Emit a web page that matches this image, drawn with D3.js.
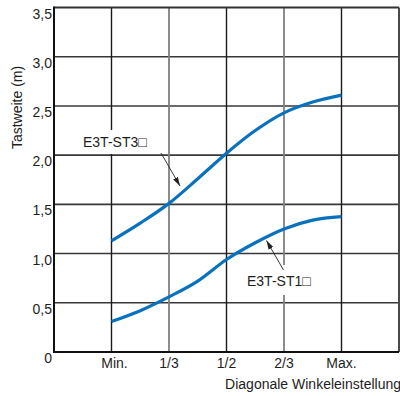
<!DOCTYPE html>
<html><head><meta charset="utf-8">
<script src="https://cdn.jsdelivr.net/npm/d3@7"></script>
<style>body{margin:0;background:#fff}svg{display:block}text{font-family:"Liberation Sans",Arial,sans-serif;fill:#1e1e1e}</style>
</head><body><svg id="c" width="400" height="396"></svg>
<script>
const categories = ["Min.", "1/3", "1/2", "2/3", "Max."];
const categoryPos = [1, 2, 3, 4, 5];
const yTickValues = [0, 0.5, 1.0, 1.5, 2.0, 2.5, 3.0, 3.5];
const yTickLabels = ["0", "0,5", "1,0", "1,5", "2,0", "2,5", "3,0", "3,5"];
const xPoints = [1, 1.5, 2, 2.5, 3, 3.5, 4, 4.5, 5];
const st3 = [1.13, 1.31, 1.51, 1.76, 2.02, 2.25, 2.43, 2.54, 2.61];
const st1 = [0.31, 0.42, 0.56, 0.72, 0.94, 1.11, 1.25, 1.34, 1.375];
const seriesNames = ["E3T-ST3\u25A1", "E3T-ST1\u25A1"];
const xTitle = "Diagonale Winkeleinstellung";
const yTitle = "Tastweite (m)";

const svg = d3.select("#c");
const x = d3.scaleLinear().domain([0, 6]).range([54, 399]);
const y = d3.scaleLinear().domain([0, 3.5]).range([352, 7.5]);

// horizontal grid
svg.append("g").selectAll("line").data(yTickValues.filter(v => v > 0 && v < 3.5)).join("line")
  .attr("x1", x(0)).attr("x2", x(6)).attr("y1", d => y(d)).attr("y2", d => y(d))
  .attr("stroke", "#383838").attr("stroke-width", 1.6);
// vertical grid
svg.append("g").selectAll("line").data(categoryPos).join("line")
  .attr("x1", d => x(d)).attr("x2", d => x(d)).attr("y1", y(0)).attr("y2", y(3.5))
  .attr("stroke", (d, i) => (i === 1 || i === 3) ? "#808080" : "#1a1a1a")
  .attr("stroke-width", (d, i) => (i === 1 || i === 3) ? 1.8 : 1.4);
// frame top and right
svg.append("line").attr("x1", x(0)).attr("x2", x(6)).attr("y1", y(3.5)).attr("y2", y(3.5)).attr("stroke", "#333").attr("stroke-width", 2);
svg.append("line").attr("x1", x(6)).attr("x2", x(6)).attr("y1", y(3.5)).attr("y2", y(0)).attr("stroke", "#4a4a4a").attr("stroke-width", 2);
// axes
svg.append("line").attr("x1", x(0)).attr("x2", x(0)).attr("y1", y(3.5) - 1).attr("y2", y(0)).attr("stroke", "#111").attr("stroke-width", 2);
svg.append("line").attr("x1", x(0) - 1).attr("x2", x(6)).attr("y1", y(0)).attr("y2", y(0)).attr("stroke", "#111").attr("stroke-width", 2);

// label backgrounds
svg.append("rect").attr("x", 78).attr("y", 130).attr("width", 74).attr("height", 24).attr("fill", "#fff");
svg.append("rect").attr("x", 244).attr("y", 265).attr("width", 74).attr("height", 30).attr("fill", "#fff");

// curves
const line = d3.line().x((d, i) => x(xPoints[i])).y(d => y(d)).curve(d3.curveMonotoneX);
[st3, st1].forEach(s => {
  svg.append("path").datum(s).attr("d", line).attr("fill", "none")
    .attr("stroke", "#0a72bd").attr("stroke-width", 3.2).attr("stroke-linecap", "butt");
});

// y tick labels
svg.append("g").selectAll("text").data(yTickValues).join("text")
  .attr("x", 52).attr("y", d => y(d) + 11).attr("text-anchor", "end")
  .attr("font-size", 14).text((d, i) => yTickLabels[i]);
// x tick labels
svg.append("g").selectAll("text").data(categories).join("text")
  .attr("x", (d, i) => x(categoryPos[i]) + (i === 0 ? 3 : 0)).attr("y", 367.5).attr("text-anchor", "middle")
  .attr("font-size", 14).text(d => d);
// titles
svg.append("text").attr("x", 401).attr("y", 389).attr("text-anchor", "end").attr("font-size", 14).text(xTitle);
svg.append("text").attr("transform", "translate(21.5,107.5) rotate(-90)").attr("text-anchor", "middle").attr("font-size", 14).text(yTitle);

// annotations
const defs = svg.append("defs");
defs.append("marker").attr("id", "ah").attr("viewBox", "0 0 10 10").attr("refX", 10).attr("refY", 5)
  .attr("markerWidth", 9).attr("markerHeight", 9).attr("markerUnits", "userSpaceOnUse").attr("orient", "auto")
  .append("path").attr("d", "M0,2 L10,5 L0,8 Z").attr("fill", "#222");
svg.append("text").attr("x", 83).attr("y", 146.5).attr("font-size", 14).text(seriesNames[0]);
svg.append("text").attr("x", 247).attr("y", 285.5).attr("font-size", 14).text(seriesNames[1]);
svg.append("line").attr("x1", 161).attr("y1", 153).attr("x2", 180).attr("y2", 186)
  .attr("stroke", "#222").attr("stroke-width", 0.9).attr("marker-end", "url(#ah)");
svg.append("line").attr("x1", 283.5).attr("y1", 270).attr("x2", 266.5).attr("y2", 240.5)
  .attr("stroke", "#222").attr("stroke-width", 0.9).attr("marker-end", "url(#ah)");
</script></body></html>
